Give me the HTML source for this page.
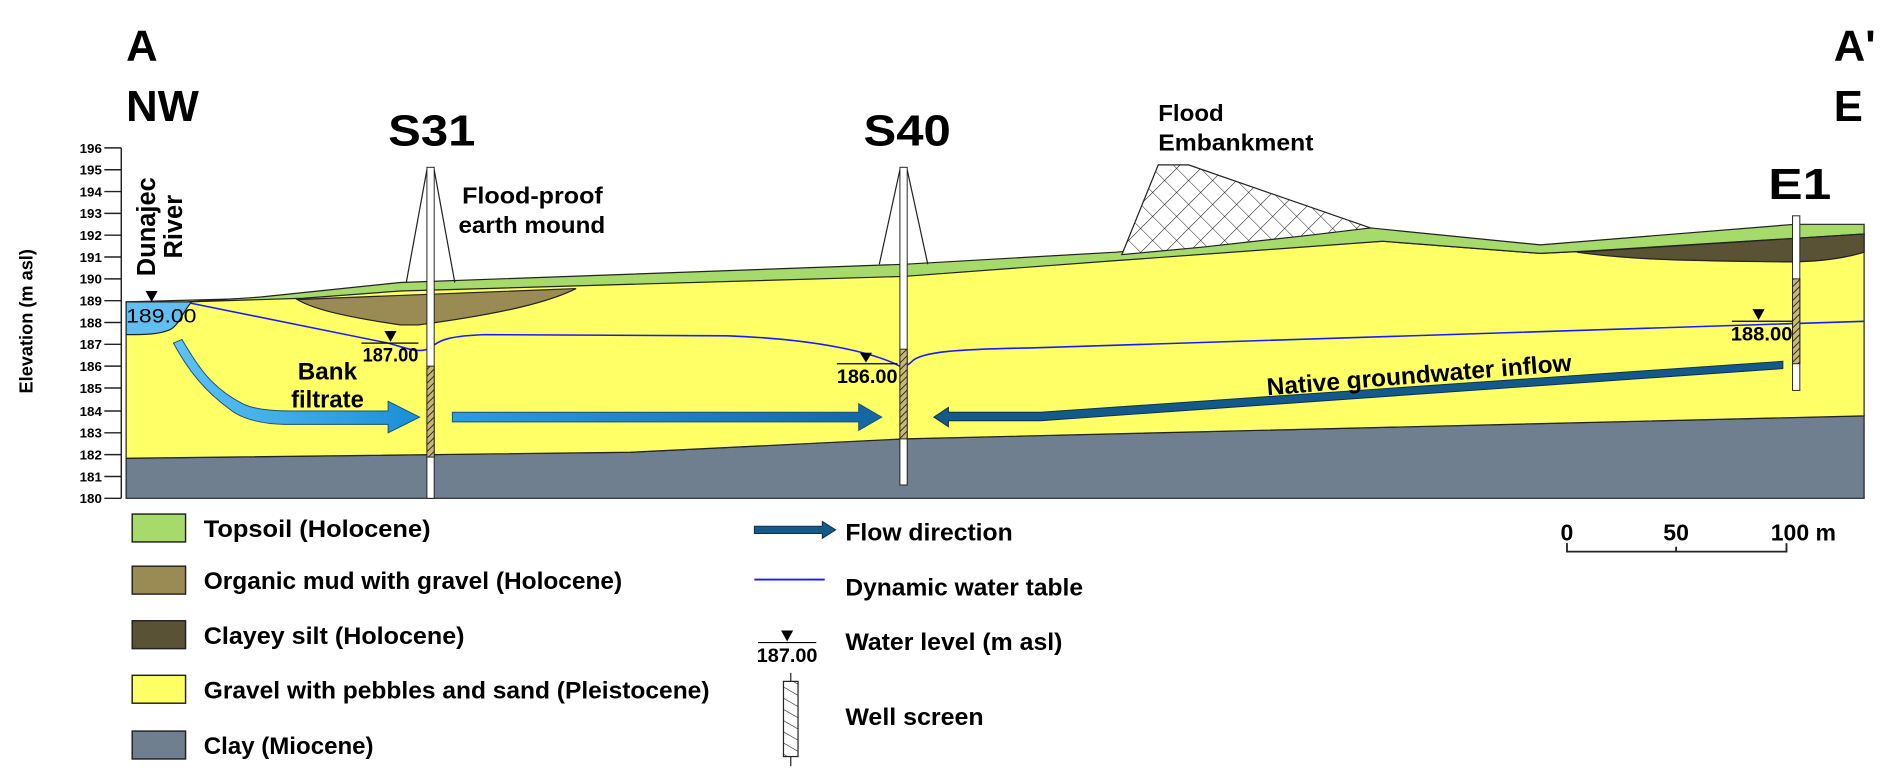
<!DOCTYPE html>
<html><head><meta charset="utf-8"><style>
html,body{margin:0;padding:0;background:#fff;}
svg{display:block;}
.n{font-family:"Liberation Sans",sans-serif;font-weight:bold;}
.b{font-family:"Liberation Sans",sans-serif;font-weight:bold;}
</style></head><body>
<svg width="1892" height="782" viewBox="0 0 1560 645" preserveAspectRatio="none" xmlns="http://www.w3.org/2000/svg">
<defs>
<pattern id="hatch" width="4" height="4" patternUnits="userSpaceOnUse" patternTransform="rotate(45)">
<rect width="4" height="4" fill="#c9b77a"/><line x1="0" y1="0" x2="0" y2="4" stroke="#222" stroke-width="1.5"/></pattern>
<pattern id="hatchL" width="8" height="8" patternUnits="userSpaceOnUse" patternTransform="rotate(-60)">
<rect width="8" height="8" fill="#fff"/><line x1="0" y1="0" x2="0" y2="8" stroke="#222" stroke-width="1"/></pattern>
<pattern id="cross" width="14" height="14" patternUnits="userSpaceOnUse" patternTransform="rotate(45)">
<rect width="14" height="14" fill="#fff"/><path d="M0 0V14M0 0H14" stroke="#222" stroke-width="0.9"/></pattern>
<linearGradient id="lb" x1="0" x2="1"><stop offset="0" stop-color="#5ec3f5"/><stop offset="1" stop-color="#1a8fd6"/></linearGradient>
<linearGradient id="mb" x1="0" x2="1"><stop offset="0" stop-color="#2a9de0"/><stop offset="1" stop-color="#1466a0"/></linearGradient>
</defs>
<polygon points="104,378 520,373 745,362 1537,343 1537,411 104,411" fill="#6f7f8f" stroke="#222" stroke-width="1"/>
<polygon points="104,249 215,246 330,236 745,226 920,212 1140,199 1270,209 1310,207 1537,193 1537,343 745,362 520,373 104,378" fill="#ffff66" stroke="#222" stroke-width="1"/>
<polygon points="155,249 215,245 330,233 745,218 920,208 1130,188 1270,202 1480,185 1537,185 1537,193 1310,207 1270,209 1140,199 920,215 745,228 330,240 250,246" fill="#a6da6a" stroke="#222" stroke-width="1"/>
<path d="M245,247 L475,238 C455,248 420,258 345,268 L330,268 C290,262 260,256 245,247Z" fill="#9a8b55" stroke="#222" stroke-width="1"/>
<path d="M1300,208 L1537,193 L1537,208 C1515,215 1490,216 1470,216 C1400,215 1350,215 1300,208Z" fill="#5a5234" stroke="#222" stroke-width="1"/>
<polygon points="925,210 955,136 980,136 1130,188 1080,194 990,204" fill="url(#cross)" stroke="#222" stroke-width="1"/>
<path d="M104,249 L158,249 C150,258 148,268 140,272 C130,276 120,276 104,276Z" fill="#62bdf0" stroke="#222" stroke-width="1"/>
<path d="M157,250 L320,283 C335,287 345,292 355,287 C362,280 372,277 400,276 L600,277 C680,280 720,292 738,300 C744,304 748,302 752,298 C760,290 790,288 850,287 L1537,265" fill="none" stroke="#1a1aff" stroke-width="1.3"/>
<path d="M335,233 L352,140 M375,233 L358,140 M725,218 L742,140 M765,218 L748,140" stroke="#222" stroke-width="1" fill="none"/>
<rect x="352" y="138" width="6" height="273" fill="#fff" stroke="#222" stroke-width="0.8"/>
<rect x="352" y="302" width="6" height="75" fill="url(#hatch)" stroke="#222" stroke-width="0.8"/>
<rect x="742" y="138" width="6" height="262" fill="#fff" stroke="#222" stroke-width="0.8"/>
<rect x="742" y="288" width="6" height="74" fill="url(#hatch)" stroke="#222" stroke-width="0.8"/>
<rect x="1478" y="178" width="6" height="144" fill="#fff" stroke="#222" stroke-width="0.8"/>
<rect x="1478" y="230" width="6" height="70" fill="url(#hatch)" stroke="#222" stroke-width="0.8"/>
<path d="M143,283 L150,280 C165,305 175,320 200,333 C210,338 225,339 240,339 L320,339 L320,331 L346,344 L320,357 L320,350 L235,350 C218,350 200,346 190,338 C168,322 155,305 143,283Z" fill="url(#lb)" stroke="#1b4f7a" stroke-width="0.8"/>
<path d="M373,340 L708,340 L708,333 L727,344 L708,355 L708,348 L373,348Z" fill="url(#mb)" stroke="#1b4f7a" stroke-width="0.8"/>
<path d="M1470,298 L1470,304 L858,347 L782,347 L782,352 L770,344 L782,336 L782,340 L858,340Z" fill="#135a8a" stroke="#0c2f4a" stroke-width="0.8"/>
<g fill="#000" class="n" font-size="16">
<polygon points="120,240 130,240 125,249"/>
<text x="104" y="266" textLength="58" lengthAdjust="spacingAndGlyphs" font-weight="normal">189.00</text>
<line x1="298" y1="283" x2="345" y2="283" stroke="#000"/><polygon points="317,273 327,273 322,282"/>
<text x="299" y="298" textLength="46" lengthAdjust="spacingAndGlyphs">187.00</text>
<line x1="690" y1="300" x2="740" y2="300" stroke="#000"/><polygon points="709,291 719,291 714,299"/>
<text x="690" y="316" textLength="50" lengthAdjust="spacingAndGlyphs">186.00</text>
<line x1="1428" y1="265" x2="1478" y2="265" stroke="#000"/><polygon points="1445,255 1455,255 1450,264"/>
<text x="1427" y="281" textLength="51" lengthAdjust="spacingAndGlyphs">188.00</text>
</g>
<g stroke="#222" stroke-width="1.2"><line x1="100" y1="122" x2="100" y2="411"/>
<line x1="86" y1="122" x2="100" y2="122"/><line x1="86" y1="140" x2="100" y2="140"/><line x1="86" y1="158" x2="100" y2="158"/><line x1="86" y1="176" x2="100" y2="176"/><line x1="86" y1="194" x2="100" y2="194"/><line x1="86" y1="212" x2="100" y2="212"/><line x1="86" y1="230" x2="100" y2="230"/><line x1="86" y1="248" x2="100" y2="248"/><line x1="86" y1="266" x2="100" y2="266"/><line x1="86" y1="284" x2="100" y2="284"/><line x1="86" y1="302" x2="100" y2="302"/><line x1="86" y1="320" x2="100" y2="320"/><line x1="86" y1="339" x2="100" y2="339"/><line x1="86" y1="357" x2="100" y2="357"/><line x1="86" y1="375" x2="100" y2="375"/><line x1="86" y1="393" x2="100" y2="393"/><line x1="86" y1="411" x2="100" y2="411"/></g>
<g class="n" font-size="11" text-anchor="end">
<text x="84" y="126">196</text><text x="84" y="144">195</text><text x="84" y="162">194</text><text x="84" y="180">193</text><text x="84" y="198">192</text><text x="84" y="216">191</text><text x="84" y="234">190</text><text x="84" y="252">189</text><text x="84" y="270">188</text><text x="84" y="288">187</text><text x="84" y="306">186</text><text x="84" y="324">185</text><text x="84" y="343">184</text><text x="84" y="361">183</text><text x="84" y="379">182</text><text x="84" y="397">181</text><text x="84" y="415">180</text></g>
<text class="b" font-size="15" transform="translate(27,265) rotate(-90)" text-anchor="middle">Elevation (m asl)</text>
<text class="b" font-size="21" transform="translate(128,187) rotate(-90)" text-anchor="middle">Dunajec</text>
<text class="b" font-size="21" transform="translate(150,187) rotate(-90)" text-anchor="middle">River</text>
<g class="b" font-size="36"><text x="104" y="50">A</text><text x="104" y="100">NW</text><text x="1512" y="50">A'</text><text x="1512" y="100">E</text>
<text x="320" y="120" textLength="72" lengthAdjust="spacingAndGlyphs">S31</text><text x="712" y="120" textLength="72" lengthAdjust="spacingAndGlyphs">S40</text><text x="1458" y="164" textLength="52" lengthAdjust="spacingAndGlyphs">E1</text></g>
<g class="n" font-size="19"><text x="381" y="168" textLength="116" lengthAdjust="spacingAndGlyphs">Flood-proof</text><text x="378" y="192" textLength="121" lengthAdjust="spacingAndGlyphs">earth mound</text>
<text x="955" y="100" textLength="54" lengthAdjust="spacingAndGlyphs">Flood</text><text x="955" y="124" textLength="128" lengthAdjust="spacingAndGlyphs">Embankment</text></g>
<g class="b" font-size="20"><text x="270" y="313" text-anchor="middle">Bank</text><text x="270" y="336" text-anchor="middle" textLength="60" lengthAdjust="spacingAndGlyphs">filtrate</text>
<text x="0" y="0" transform="translate(1045,326) rotate(-4.6)" textLength="252" lengthAdjust="spacingAndGlyphs">Native groundwater inflow</text></g>
<g stroke="#222" stroke-width="1.2"><rect x="109" y="424" width="44" height="23" fill="#a6da6a"/><rect x="109" y="467" width="44" height="23" fill="#9a8b55"/><rect x="109" y="512" width="44" height="23" fill="#5a5234"/><rect x="109" y="557" width="44" height="23" fill="#ffff66"/><rect x="109" y="603" width="44" height="23" fill="#6f7f8f"/></g>
<g class="n" font-size="20">
<text x="168" y="443" textLength="187" lengthAdjust="spacingAndGlyphs">Topsoil (Holocene)</text>
<text x="168" y="486" textLength="345" lengthAdjust="spacingAndGlyphs">Organic mud with gravel (Holocene)</text>
<text x="168" y="531" textLength="215" lengthAdjust="spacingAndGlyphs">Clayey silt (Holocene)</text>
<text x="168" y="576" textLength="417" lengthAdjust="spacingAndGlyphs">Gravel with pebbles and sand (Pleistocene)</text>
<text x="168" y="622" textLength="140" lengthAdjust="spacingAndGlyphs">Clay (Miocene)</text>
<text x="697" y="446" textLength="138" lengthAdjust="spacingAndGlyphs">Flow direction</text>
<text x="697" y="491" textLength="196" lengthAdjust="spacingAndGlyphs">Dynamic water table</text>
<text x="697" y="536" textLength="179" lengthAdjust="spacingAndGlyphs">Water level (m asl)</text>
<text x="697" y="598" textLength="114" lengthAdjust="spacingAndGlyphs">Well screen</text></g>
<path d="M622,434 L678,434 L678,430 L689,437 L678,444 L678,440 L622,440Z" fill="#135a8a" stroke="#0c2f4a" stroke-width="0.8"/>
<line x1="622" y1="478" x2="680" y2="478" stroke="#1a1aff" stroke-width="1.5"/>
<polygon points="644,520 654,520 649,529" fill="#000"/><line x1="625" y1="530" x2="673" y2="530" stroke="#000"/>
<text class="n" x="624" y="546" font-size="16" textLength="50" lengthAdjust="spacingAndGlyphs">187.00</text>
<line x1="652" y1="555" x2="652" y2="632" stroke="#222"/>
<rect x="646" y="562" width="12" height="62" fill="url(#hatchL)" stroke="#222"/>
<path d="M1292,448 V455 H1473 V448 M1382,451 V455" fill="none" stroke="#222" stroke-width="1.5"/>
<g class="b" font-size="19"><text x="1292" y="446" text-anchor="middle">0</text><text x="1382" y="446" text-anchor="middle">50</text><text x="1460" y="446">100 m</text></g>
</svg>
</body></html>
